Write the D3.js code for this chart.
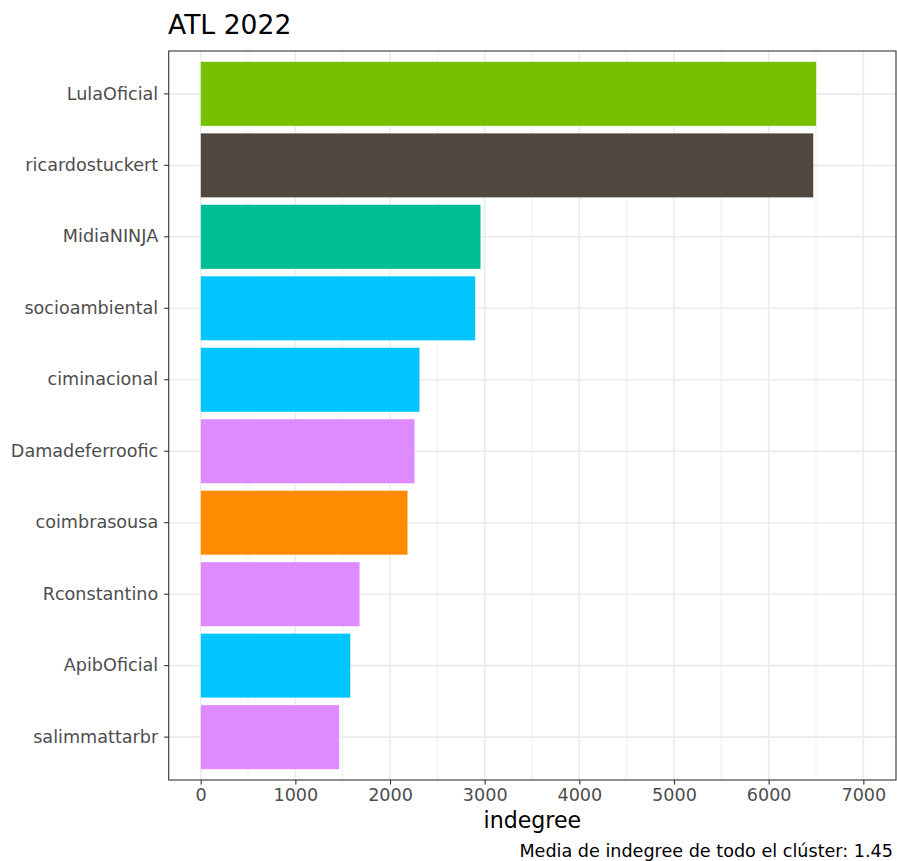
<!DOCTYPE html>
<html><head><meta charset="utf-8">
<script src="https://cdn.jsdelivr.net/npm/d3@7"></script>
<style>body{margin:0;background:#fff}svg{display:block}text{font-family:"DejaVu Sans",sans-serif}</style>
</head><body>
<script>
const categories = ["LulaOficial","ricardostuckert","MidiaNINJA","socioambiental","ciminacional","Damadeferroofic","coimbrasousa","Rconstantino","ApibOficial","salimmattarbr"];
const values = [6503, 6472, 2958, 2901, 2313, 2261, 2187, 1680, 1581, 1464];
const colors = ["#76C000","#4F4740","#00BE93","#00C5FF","#00C5FF","#DD8BFF","#FF8C00","#DD8BFF","#00C5FF","#DD8BFF"];
const xTicks = [0,1000,2000,3000,4000,5000,6000,7000];
const minorTicks = [500,1500,2500,3500,4500,5500,6500];
const title = "ATL 2022";
const xLabel = "indegree";
const caption = "Media de indegree de todo el clúster: 1.45";

const W = 897, H = 861;
const pl = 168.7, pr = 896, pt = 51, pb = 780;
const svg = d3.select("body").append("svg").attr("width", W).attr("height", H);

const x = d3.scaleLinear().domain([-338, 7345]).range([pl, pr]);
const y = d3.scaleBand().domain(categories).range([pt, pb]).paddingInner(0.1).paddingOuter(0.15);

// grid
const g = svg.append("g");
g.selectAll(".minx").data(minorTicks).join("line")
  .attr("x1", d => x(d)).attr("x2", d => x(d)).attr("y1", pt).attr("y2", pb)
  .attr("stroke", "#EBEBEB").attr("stroke-width", 0.8);
g.selectAll(".majx").data(xTicks).join("line")
  .attr("x1", d => x(d)).attr("x2", d => x(d)).attr("y1", pt).attr("y2", pb)
  .attr("stroke", "#EBEBEB").attr("stroke-width", 1.6);
g.selectAll(".majy").data(categories).join("line")
  .attr("x1", pl).attr("x2", pr).attr("y1", d => y(d) + y.bandwidth()/2).attr("y2", d => y(d) + y.bandwidth()/2)
  .attr("stroke", "#EBEBEB").attr("stroke-width", 1.6);

// bars
svg.selectAll(".bar").data(categories).join("rect")
  .attr("x", x(0)).attr("y", d => y(d))
  .attr("width", (d, i) => x(values[i]) - x(0))
  .attr("height", y.bandwidth())
  .attr("fill", (d, i) => colors[i])
  .attr("stroke", "rgba(255,255,255,0.5)").attr("stroke-width", 0.6);

// panel border
svg.append("rect").attr("x", pl).attr("y", pt).attr("width", pr - pl).attr("height", pb - pt)
  .attr("fill", "none").attr("stroke", "#333333").attr("stroke-width", 1.1);

// axes
const xAxis = svg.append("g").attr("transform", `translate(0,${pb})`)
  .call(d3.axisBottom(x).tickValues(xTicks).tickFormat(d3.format("d")).tickSize(4.5).tickPadding(4));
xAxis.select(".domain").remove();
xAxis.selectAll("line").attr("stroke", "#333333").attr("stroke-width", 1.1);
xAxis.selectAll("text").attr("fill", "#4D4D4D").style("font-size", "17.6px");

const yAxis = svg.append("g").attr("transform", `translate(${pl},0)`)
  .call(d3.axisLeft(y).tickSize(4.5).tickPadding(6));
yAxis.select(".domain").remove();
yAxis.selectAll("line").attr("stroke", "#333333").attr("stroke-width", 1.1);
yAxis.selectAll("text").attr("fill", "#4D4D4D").style("font-size", "17.6px");

// titles
svg.append("text").attr("x", 168).attr("y", 34).text(title).style("font-size", "26.6px").attr("fill", "#000");
svg.append("text").attr("x", (pl + pr)/2).attr("y", 828).attr("text-anchor", "middle").text(xLabel).style("font-size", "22.1px").attr("fill", "#000");
svg.append("text").attr("x", 893).attr("y", 856.5).attr("text-anchor", "end").text(caption).style("font-size", "17.6px").attr("fill", "#000");
</script>
</body></html>
